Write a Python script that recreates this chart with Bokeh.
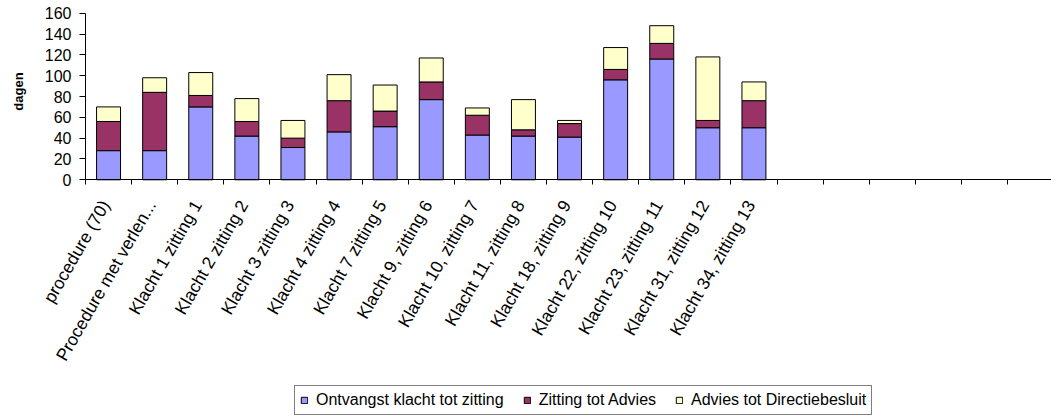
import math
from bokeh.plotting import figure
from bokeh.models import ColumnDataSource, FixedTicker, Legend, LegendItem, Label
from bokeh.embed import file_html
from bokeh.resources import INLINE

categories = [
    "procedure (70)", "Procedure met verlen...", "Klacht 1 zitting 1",
    "Klacht 2 zitting 2", "Klacht 3 zitting 3", "Klacht 4 zitting 4",
    "Klacht 7 zitting 5", "Klacht 9, zitting 6", "Klacht 10, zitting 7",
    "Klacht 11, zitting 8", "Klacht 18, zitting 9", "Klacht 22, zitting 10",
    "Klacht 23, zitting 11", "Klacht 31, zitting 12", "Klacht 34, zitting 13",
]
ontvangst = [28, 28, 70, 42, 31, 46, 51, 77, 43, 42, 41, 96, 116, 50, 50]
zitting = [28, 56, 11, 14, 9, 30, 15, 17, 19, 6, 13, 10, 15, 7, 26]
advies = [14, 14, 22, 22, 17, 25, 25, 23, 7, 29, 3, 21, 17, 61, 18]
series_names = ["Ontvangst klacht tot zitting", "Zitting tot Advies",
                "Advies tot Directiebesluit"]
y_ticks = [0, 20, 40, 60, 80, 100, 120, 140, 160]
y_max = 160
n_slots = 21

colors = ["#9999FF", "#993366", "#FFFFCC"]
FONT = "Liberation Sans"

# layout (pixels)
W, H = 1051, 418
axis_left_px = 85.0     # x pixel of the y axis
top_px = 12.7           # y pixel of y = 160
zero_px = 179.3         # y pixel of y = 0
px_per_slot = 46.1
px_per_unit = (zero_px - top_px) / y_max
label_shift = -0.07     # slot units, nudges rotated labels to end at slot centre

x0 = -0.5 - axis_left_px / px_per_slot
x1 = x0 + W / px_per_slot
y1 = y_max + top_px / px_per_unit
y0 = -(H - zero_px) / px_per_unit

x = list(range(len(categories)))
src = ColumnDataSource(dict(x=x, ontvangst=ontvangst, zitting=zitting, advies=advies))

p = figure(width=W, height=H, output_backend="svg", toolbar_location=None,
           x_range=(x0, x1), y_range=(y0, y1),
           min_border_left=0, min_border_right=0, min_border_top=0,
           min_border_bottom=0)
p.outline_line_color = None
p.xgrid.visible = False
p.ygrid.visible = False

rs = p.vbar_stack(["ontvangst", "zitting", "advies"], x="x", width=0.52,
                  source=src, fill_color=colors, line_color="black", line_width=1)

# x axis (drawn at y = 0 inside the frame)
label_pos = [i + label_shift for i in x]
xa = p.xaxis[0]
xa.fixed_location = 0
xa.bounds = (-0.5, x1)
xa.ticker = FixedTicker(ticks=label_pos, minor_ticks=[i - 0.5 for i in range(n_slots + 1)])
xa.major_label_overrides = {pos: c for pos, c in zip(label_pos, categories)}
xa.major_tick_out = 0
xa.major_tick_in = 0
xa.minor_tick_out = 5
xa.minor_tick_in = 0
xa.minor_tick_line_color = "black"
xa.major_label_orientation = math.pi / 3
xa.major_label_standoff = 17
xa.major_label_text_font = FONT
xa.major_label_text_font_size = "17.5px"
xa.major_label_text_color = "black"
xa.axis_line_color = "black"

# y axis (drawn at the left slot boundary)
ya = p.yaxis[0]
ya.fixed_location = -0.5
ya.bounds = (0, y_max)
ya.ticker = FixedTicker(ticks=y_ticks)
ya.major_tick_out = 6
ya.major_tick_in = 0
ya.minor_tick_line_color = None
ya.major_label_standoff = 8
ya.major_label_text_font = FONT
ya.major_label_text_font_size = "16px"
ya.major_label_text_color = "black"
ya.axis_line_color = "black"
ya.major_tick_line_color = "black"

dagen = Label(x=17.5, y=H - 91, x_units="screen", y_units="screen", text="dagen",
              angle=math.pi / 2, text_align="center", text_baseline="middle",
              text_font=FONT, text_font_size="13px", text_font_style="bold",
              text_color="black")
p.add_layout(dagen)

legend = Legend(items=[LegendItem(label=n, renderers=[r]) for n, r in zip(series_names, rs)],
                orientation="horizontal", location=(294, 3))
legend.label_text_font = FONT
legend.label_text_font_size = "16px"
legend.label_text_color = "black"
legend.glyph_width = 8
legend.glyph_height = 8
legend.label_standoff = 8
legend.spacing = 19
legend.padding = 5
legend.margin = 0
legend.label_height = 16
legend.border_line_color = "black"
legend.border_line_width = 1
legend.background_fill_color = "white"
p.add_layout(legend, "center")

open("out.html", "w").write(file_html(p, INLINE))
